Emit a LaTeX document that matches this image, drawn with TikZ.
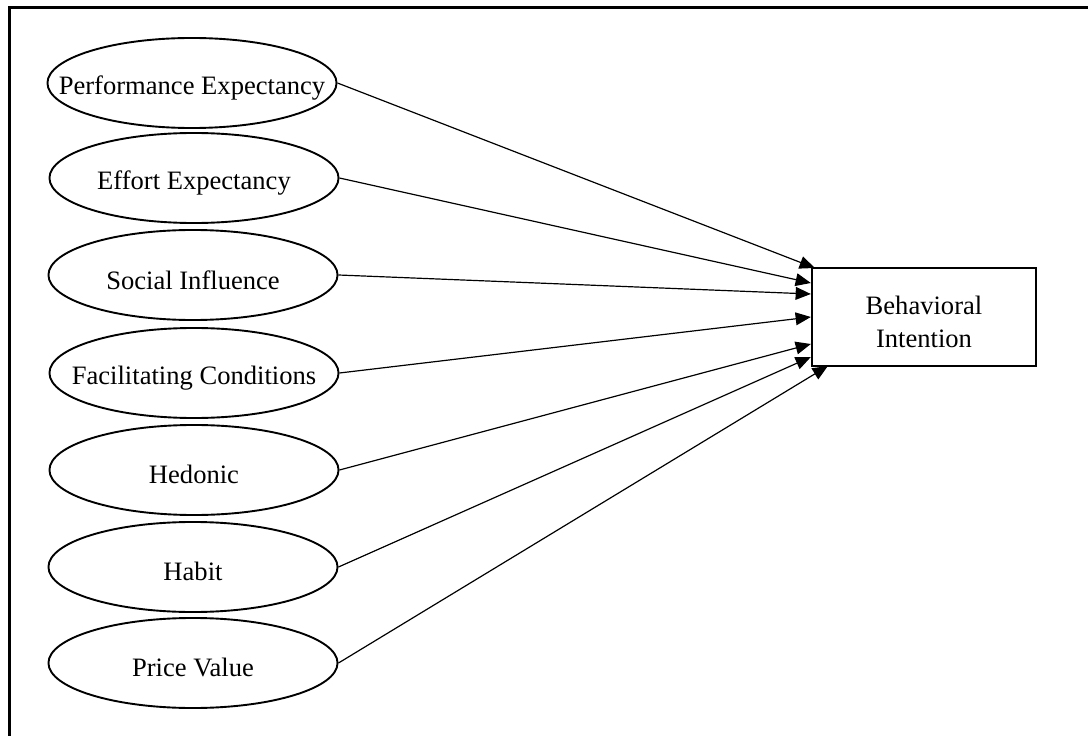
\documentclass[tikz,border=0pt]{standalone}
\usepackage{fontspec}
\setmainfont{Liberation Serif}
\usetikzlibrary{shapes.geometric,arrows.meta}
\tikzset{
	txt/.style={font=\fontsize{18.9}{23.4}\selectfont},
	construct/.style={
		draw, ellipse,
		line width=1.35pt,
		minimum width=72.25mm,
		minimum height=22.5mm,
		inner sep=0pt,
		label={[txt, anchor=base, yshift=-1.2mm]center:#1}
	},
	outcome/.style={
		draw, line width=1.6pt,
		minimum width=56mm, minimum height=24.5mm,
		label={[txt, align=center, yshift=-1.2mm]center:#1}
	},
	link/.style={line width=0.85pt, -{Triangle[length=3.8mm, width=3.2mm]}},
	frame/.style={draw, line width=2pt},
}

\begin{document}
\begin{tikzpicture}[x=0.025cm, y=-0.025cm]
	\useasboundingbox (0,0) rectangle (1088,736);
	
	% ------------------- outer frame (cut at right and bottom) -------------------
	\draw[frame] (9.5,760) -- (9.5,7.5) -- (1110,7.5);
	
	% ------------------- constructs -------------------
	\node[construct={Performance Expectancy}] (pe) at (192,83) {};
	\node[construct={Effort Expectancy}] (ee) at (194,178) {};
	\node[construct={Social Influence}] (si) at (193,275) {};
	\node[construct={Facilitating Conditions}] (fc) at (194,373) {};
	\node[construct={Hedonic}] (hm) at (194,470) {};
	\node[construct={Habit}] (ht) at (193,567) {};
	\node[construct={Price Value}] (pv) at (193,663) {};
	
	% ------------------- outcome -------------------
	\node[outcome={Behavioral\\Intention}] (bi) at (924,317) {};
	
	% ------------------- paths -------------------
	\draw[link] (pe.east) -- ([shift={(4,-49)}]bi.west);
	\draw[link] (ee.east) -- ([shift={(0,-34)}]bi.west);
	\draw[link] (si.east) -- ([shift={(0,-23)}]bi.west);
	\draw[link] (fc.east) -- (bi.west);
	\draw[link] (hm.east) -- ([shift={(0,27)}]bi.west);
	\draw[link] (ht.east) -- ([shift={(0,40)}]bi.west);
	\draw[link] (pv.east) -- ([shift={(17,49)}]bi.west);
	
\end{tikzpicture}
\end{document}
